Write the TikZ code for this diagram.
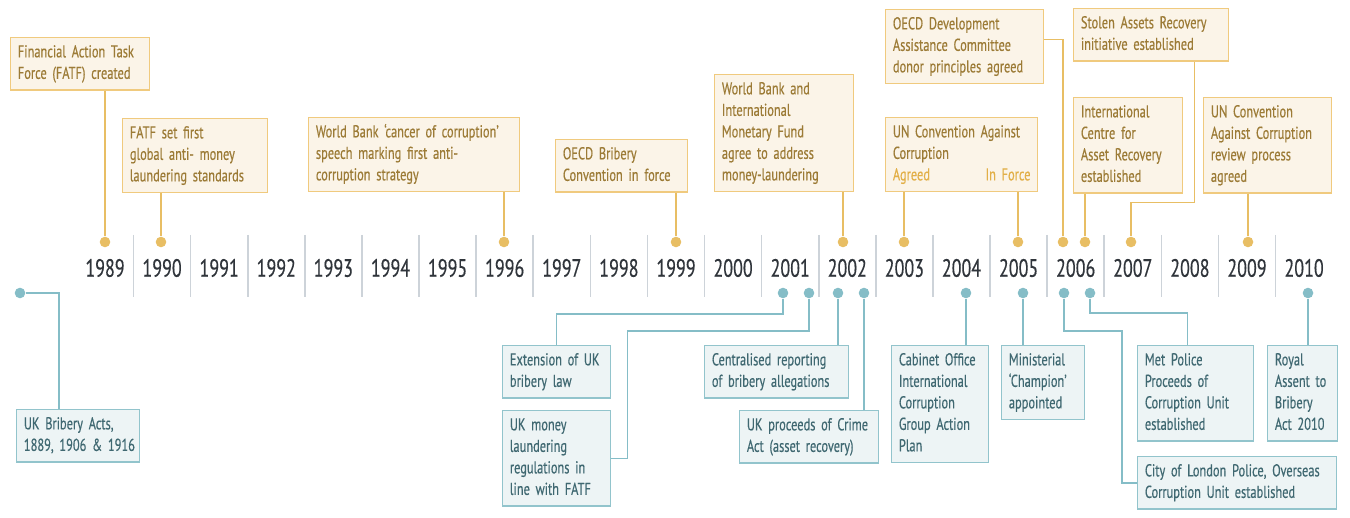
\documentclass[tikz,border=0pt]{standalone}
\usepackage{fontspec}
\usepackage{tikz}
\newfontfamily\tlfont[FakeStretch=0.72, WordSpace=0.8, FakeBold=0.4]{PT Sans}
\definecolor{goldedge}{HTML}{F0CA7E}
\definecolor{goldfill}{HTML}{FBF4E8}
\definecolor{goldtext}{HTML}{9C7B36}
\definecolor{golddot}{HTML}{E8BE64}
\definecolor{goldbright}{HTML}{E2AF47}
\definecolor{tealedge}{HTML}{92C4CC}
\definecolor{tealfill}{HTML}{EDF4F5}
\definecolor{tealtext}{HTML}{3F6871}
\definecolor{tealdot}{HTML}{85BDC7}
\definecolor{yeartext}{HTML}{30353B}
\definecolor{sepgray}{HTML}{CDD3D9}
\newcommand\nohyph{\hyphenpenalty=10000\relax\exhyphenpenalty=10000\relax}
\tikzset{
  evgold/.style={draw=goldedge, fill=goldfill, text=goldtext, line width=0.7pt,
    font=\tlfont\fontsize{8.6}{10.75}\selectfont,
    align=left, anchor=north west, inner xsep=3.6pt, inner ysep=2.3pt,
    execute at begin node=\nohyph\strut, execute at end node=\strut},
  evteal/.style={evgold, draw=tealedge, fill=tealfill, text=tealtext},
  dotgold/.style={circle, fill=golddot, inner sep=0pt, minimum size=5.3pt},
  dotteal/.style={dotgold, fill=tealdot},
  linkgold/.style={draw=golddot, line width=0.75pt},
  linkteal/.style={draw=tealdot, line width=0.75pt},
  yearlbl/.style={font=\tlfont\fontsize{12.5}{14}\selectfont, text=yeartext, inner sep=0pt},
  yearsep/.style={draw=sepgray, line width=0.8pt},
}

\begin{document}
\begin{tikzpicture}[x=0.5pt, y=-0.5pt]
  \useasboundingbox (0,0) rectangle (1350,518);
  % Axis: years and separators
  \foreach \yr [count=\i from 0] in {1989,...,2010}
    \node[yearlbl] (y\yr) at (105+57.1*\i,268) {\yr};
  \foreach \k in {0,...,20}
    \draw[yearsep] (133.5+57.1*\k,235) -- (133.5+57.1*\k,297);

  % International events (above)
  \node[evgold, text width=62.3pt] at (10,37) (fatf) {Financial Action Task\\Force (FATF) created};
  \node[evgold, text width=65.3pt] at (122,118) (fatfstd) {FATF set first\\global anti- money\\laundering standards};
  \node[evgold, text width=98.3pt] at (308,117) (wbcancer) {World Bank ‘cancer of corruption’\\speech marking first anti-\\corruption strategy};
  \node[evgold, text width=58.8pt] at (555,139) (oecdbrib) {OECD Bribery\\Convention in force};
  \node[evgold, text width=62.3pt] at (714,74) (wbimf) {World Bank and\\International\\Monetary Fund\\agree to address\\money-laundering};
  \node[evgold, text width=71.8pt] at (885,9) (oecddac) {OECD Development\\Assistance Committee\\donor principles agreed};
  \node[evgold, text width=68.8pt] at (885,117) (uncac) {UN Convention Against\\Corruption\\\textcolor{goldbright}{Agreed\hfill In Force}};
  \node[evgold, text width=70.3pt] at (1073,8) (star) {Stolen Assets Recovery\\initiative established};
  \node[evgold, text width=47.3pt] at (1073,97) (icar) {International\\Centre for\\Asset Recovery\\established};
  \node[evgold, text width=56.8pt] at (1203,97) (uncrev) {UN Convention\\Against Corruption\\review process\\agreed};

  % Gold markers
  \node[dotgold] (g1989) at (105,242) {};
  \node[dotgold] (g1990) at (161,242) {};
  \node[dotgold] (g1996) at (504,242) {};
  \node[dotgold] (g1999) at (676,242) {};
  \node[dotgold] (g2002) at (843,242) {};
  \node[dotgold] (g2003) at (904,242) {};
  \node[dotgold] (g2005) at (1018,242) {};
  \node[dotgold] (g2006a) at (1063,242) {};
  \node[dotgold] (g2006b) at (1085,242) {};
  \node[dotgold] (g2007) at (1131,242) {};
  \node[dotgold] (g2009) at (1248,242) {};

  % UK events (below)
  \node[evteal, text width=54.3pt] at (16,409) (ukba) {UK Bribery Acts,\\\mbox{1889, 1906 \& 1916}};
  \node[evteal, text width=46.8pt] at (502,345) (extuk) {Extension of UK\\bribery law};
  \node[evteal, text width=46.8pt] at (502,410) (ukml) {UK money\\laundering\\regulations in\\line with FATF};
  \node[evteal, text width=64.8pt] at (704,345) (central) {Centralised reporting\\of bribery allegations};
  \node[evteal, text width=62.3pt] at (739,410) (ukpc) {UK proceeds of Crime\\Act (asset recovery)};
  \node[evteal, text width=41.3pt] at (891,345) (cabinet) {Cabinet Office\\International\\Corruption\\Group Action\\Plan};
  \node[evteal, text width=34.3pt] at (1001,345) (minist) {Ministerial\\‘Champion’\\appointed};
  \node[evteal, text width=50.8pt] at (1137,345) (metpol) {Met Police\\Proceeds of\\Corruption Unit\\established};
  \node[evteal, text width=27.8pt] at (1267,345) (royal) {Royal\\Assent to\\Bribery\\Act 2010};
  \node[evteal, text width=92.3pt] at (1137,456) (colp) {City of London Police, Overseas\\Corruption Unit established};

  % Teal markers
  \node[dotteal] (t1889) at (20,293) {};
  \node[dotteal] (t2001a) at (783,293) {};
  \node[dotteal] (t2001b) at (809,293) {};
  \node[dotteal] (t2002a) at (838,293) {};
  \node[dotteal] (t2002b) at (864,293) {};
  \node[dotteal] (t2004) at (966,293) {};
  \node[dotteal] (t2005) at (1023,293) {};
  \node[dotteal] (t2006a) at (1064,293) {};
  \node[dotteal] (t2006b) at (1090,293) {};
  \node[dotteal] (t2010) at (1308,293) {};

  % Gold links
  \draw[linkgold] (fatf.south -| g1989) -- (g1989);
  \draw[linkgold] (fatfstd.south -| g1990) -- (g1990);
  \draw[linkgold] (wbcancer.south -| g1996) -- (g1996);
  \draw[linkgold] (oecdbrib.south -| g1999) -- (g1999);
  \draw[linkgold] (wbimf.south -| g2002) -- (g2002);
  \draw[linkgold] (uncac.south -| g2003) -- (g2003);
  \draw[linkgold] (uncac.south -| g2005) -- (g2005);
  \draw[linkgold] ([yshift=3.5pt]oecddac.east) -| (g2006a);
  \draw[linkgold] (icar.south -| g2006b) -- (g2006b);
  \draw[linkgold] ([xshift=-17.5pt]star.south east) -- ++(0,141) -| (g2007);
  \draw[linkgold] (uncrev.south -| g2009) -- (g2009);

  % Teal links
  \draw[linkteal] (t1889) -| ([xshift=21.5pt]ukba.north west);
  \draw[linkteal] (t2001a) -- ++(0,21) -| (extuk.north);
  \draw[linkteal] (t2001b) -- ++(0,38) -| ([xshift=8pt]ukml.east) -- (ukml.east);
  \draw[linkteal] (t2002a) -- (t2002a |- central.north);
  \draw[linkteal] (t2002b) -- (t2002b |- ukpc.north);
  \draw[linkteal] (t2004) -- (t2004 |- cabinet.north);
  \draw[linkteal] (t2005) -- (t2005 |- minist.north);
  \draw[linkteal] (t2006b) -- ++(0,20) -| ([xshift=-4pt]metpol.north);
  \draw[linkteal] (t2010) -- (t2010 |- royal.north);
  \draw[linkteal] (t2006a) -- ++(0,38) -| ([xshift=-7.5pt]colp.west) -- (colp.west);
\end{tikzpicture}
\end{document}
